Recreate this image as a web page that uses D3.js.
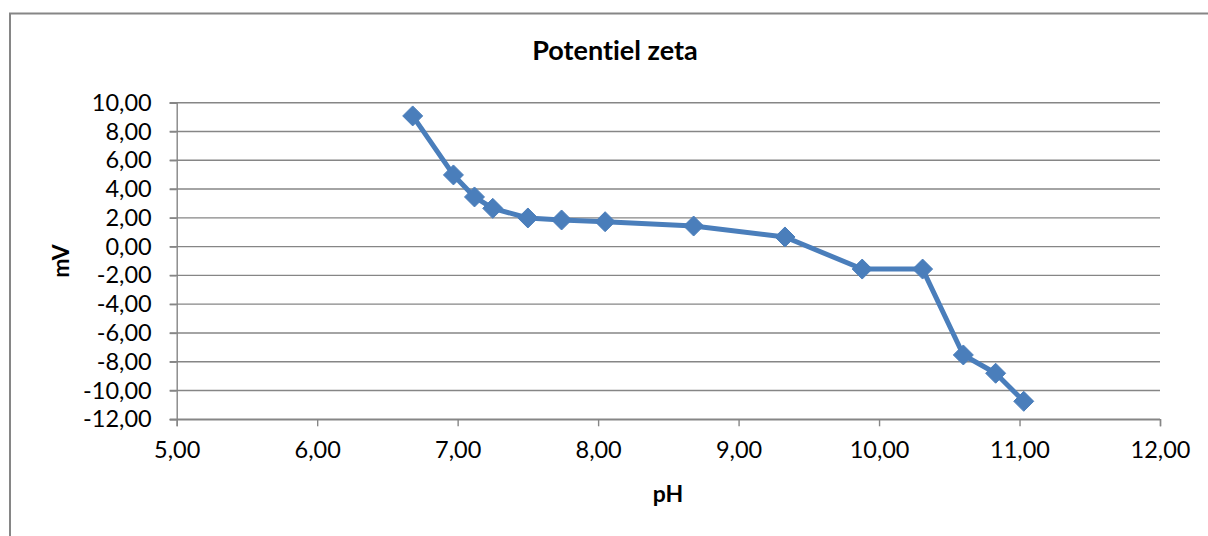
<!DOCTYPE html>
<html>
<head>
<meta charset="utf-8">
<script src="https://cdn.jsdelivr.net/npm/d3@7"></script>
<style>
  html, body { margin: 0; padding: 0; background: #fff; }
  svg { display: block; }
  text { font-family: Lato, "Open Sans", sans-serif; fill: #000; font-variant-ligatures: none; }
</style>
</head>
<body>
<svg id="chart" width="1208" height="536"></svg>
<script>
const title = "Potentiel zeta";
const xTitle = "pH";
const yTitle = "mV";
const phValues = [6.68, 6.97, 7.12, 7.25, 7.50, 7.74, 8.05, 8.68, 9.33, 9.88, 10.31, 10.60, 10.83, 11.03];
const mvValues = [9.08, 4.98, 3.45, 2.66, 1.99, 1.85, 1.73, 1.43, 0.67, -1.56, -1.56, -7.53, -8.80, -10.75];
const xTicks = [5, 6, 7, 8, 9, 10, 11, 12];
const yTicks = [10, 8, 6, 4, 2, 0, -2, -4, -6, -8, -10, -12];

const fmt = v => v.toFixed(2).replace(".", ",");

const svg = d3.select("#chart");
const plotL = 176.7, plotR = 1160, plotT = 102.7, plotB = 419.3;

// chart border (right and bottom edges off-screen)
svg.append("rect")
  .attr("x", 10).attr("y", 13.5)
  .attr("width", 1210).attr("height", 560)
  .attr("fill", "#fff").attr("stroke", "#868686").attr("stroke-width", 2);

const x = d3.scaleLinear().domain([5, 12]).range([plotL, plotR]);
const y = d3.scaleLinear().domain([-12, 10]).range([plotB, plotT]);

// gridlines
svg.append("g")
  .selectAll("line").data(yTicks).join("line")
  .attr("x1", plotL - 7).attr("x2", plotR)
  .attr("y1", d => y(d)).attr("y2", d => y(d))
  .attr("stroke", "#868686").attr("stroke-width", 1.4);

// y axis
const yAxis = svg.append("g").attr("transform", `translate(${plotL},0)`)
  .call(d3.axisLeft(y).tickValues(yTicks).tickFormat(fmt).tickSize(7).tickPadding(18));
yAxis.select(".domain").attr("stroke", "#868686").attr("stroke-width", 1.4);
yAxis.selectAll(".tick line").attr("stroke", "#868686").attr("stroke-width", 1.4);
yAxis.selectAll("text").style("font-size", "23.5px").style("font-family", "Lato, sans-serif").attr("fill", "#000");

// x axis
const xAxis = svg.append("g").attr("transform", `translate(0,${plotB})`)
  .call(d3.axisBottom(x).tickValues(xTicks).tickFormat(fmt).tickSize(7).tickPadding(15));
xAxis.select(".domain").attr("stroke", "#868686").attr("stroke-width", 1.4);
xAxis.selectAll(".tick line").attr("stroke", "#868686").attr("stroke-width", 1.4);
xAxis.selectAll("text").style("font-size", "23.5px").style("font-family", "Lato, sans-serif").attr("fill", "#000");

// titles
svg.append("text").attr("x", 615).attr("y", 60).attr("text-anchor", "middle")
  .style("font-size", "27px").style("font-weight", "bold").text(title);
svg.append("text").attr("x", 668).attr("y", 502).attr("text-anchor", "middle")
  .style("font-size", "23px").style("font-weight", "bold").text(xTitle);
svg.append("text").attr("transform", "translate(69,261) rotate(-90)").attr("text-anchor", "middle")
  .style("font-size", "23px").style("font-weight", "bold").text(yTitle);

// series
const data = phValues.map((p, i) => ({ x: p, y: mvValues[i] }));
const color = "#4A7EBB";
svg.append("path").datum(data)
  .attr("d", d3.line().x(d => x(d.x)).y(d => y(d.y)))
  .attr("fill", "none").attr("stroke", color).attr("stroke-width", 5)
  .attr("stroke-linejoin", "round");

const s = 10;
svg.append("g").selectAll("path").data(data).join("path")
  .attr("transform", d => `translate(${x(d.x)},${y(d.y)})`)
  .attr("d", `M0,${-s}L${s},0L0,${s}L${-s},0Z`)
  .attr("fill", color).attr("stroke", color).attr("stroke-width", 1);
</script>
</body>
</html>
